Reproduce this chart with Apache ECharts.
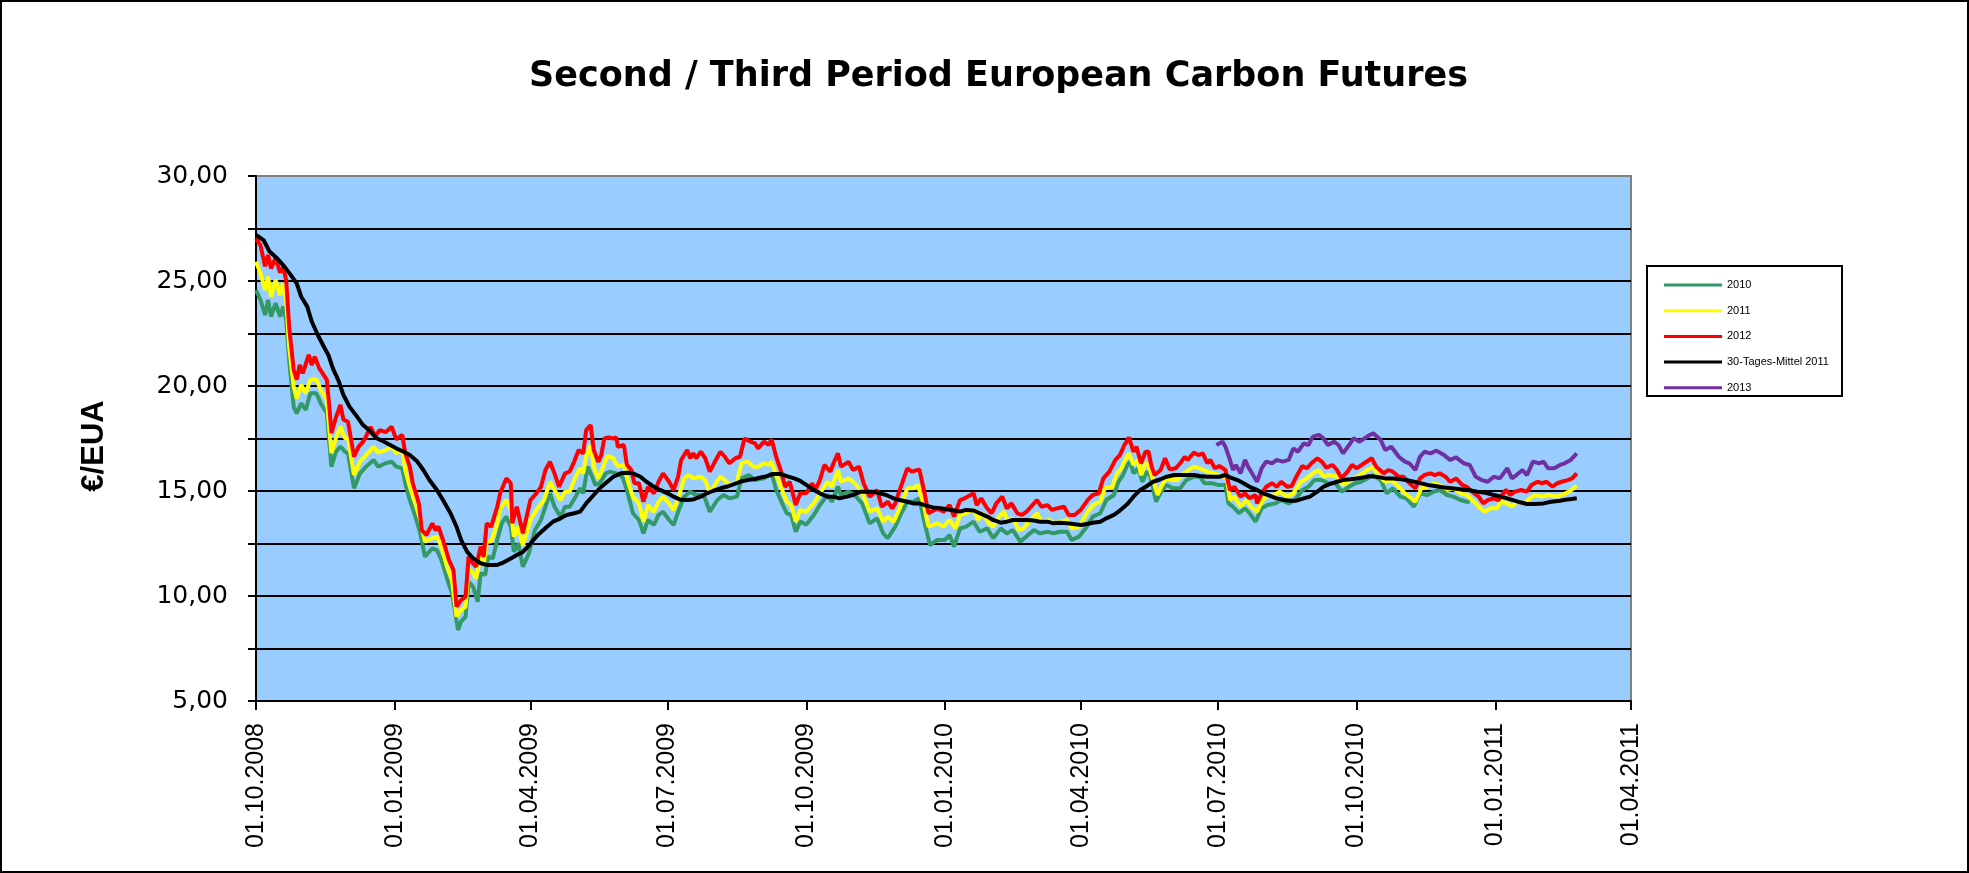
<!DOCTYPE html>
<html>
<head>
<meta charset="utf-8">
<script src="https://cdn.jsdelivr.net/npm/echarts@6/dist/echarts.min.js"></script>
<style>
html,body{margin:0;padding:0;background:#fff;}
#chart{width:1969px;height:873px;}
</style>
</head>
<body>
<div id="chart"></div>
<script>
// x values are days after 01.10.2008
const startDate = [2008, 9, 1];
const tickDates = ['2008-10-01','2009-01-01','2009-04-01','2009-07-01','2009-10-01','2010-01-01','2010-04-01','2010-07-01','2010-10-01','2011-01-01','2011-04-01'];
const yTicks = [5, 10, 15, 20, 25, 30];
const seriesNames = ['2010', '2011', '2012', '30-Tages-Mittel 2011', '2013'];

const s2010 = [[0,24.57],[3,24.1],[6,23.38],[8,24.1],[10,23.3],[13,23.94],[16,23.3],[18,23.78],[20,23.14],[22,21.24],[25,19.01],[27,18.7],[30,19.17],[33,18.86],[36,19.65],[40,19.65],[43,19.17],[47,18.7],[50,16.16],[53,16.87],[56,17.11],[59,16.87],[61,16.8],[65,15.13],[69,15.84],[73,16.16],[78,16.48],[81,16.16],[86,16.32],[90,16.4],[93,16.16],[97,16.08],[99,15.37],[102,14.57],[105,13.94],[109,12.98],[112,11.87],[117,12.27],[120,12.19],[123,11.71],[127,10.76],[130,10.13],[134,8.38],[136,8.78],[139,9.02],[141,10.68],[144,10.44],[147,9.73],[149,11.08],[152,11.0],[154,11.87],[157,11.79],[160,12.67],[163,13.46],[166,13.78],[169,13.3],[171,12.11],[174,12.51],[177,11.4],[181,12.03],[185,13.14],[189,13.62],[195,14.89],[198,14.25],[202,13.78],[205,14.25],[208,14.25],[212,14.73],[215,15.13],[217,14.89],[220,16.16],[223,15.68],[225,15.29],[228,15.37],[232,15.84],[235,15.92],[239,15.84],[243,15.68],[246,15.05],[250,13.94],[254,13.62],[257,12.98],[260,13.62],[264,13.38],[267,13.86],[270,14.01],[274,13.62],[277,13.38],[280,14.01],[284,14.73],[288,14.97],[292,14.81],[297,14.81],[301,14.01],[306,14.57],[310,14.81],[314,14.65],[319,14.73],[322,15.6],[327,15.76],[331,15.52],[337,15.6],[342,15.84],[345,15.05],[349,14.41],[352,13.94],[355,13.86],[358,13.06],[361,13.54],[365,13.4],[370,13.86],[374,14.33],[379,14.81],[382,14.49],[386,15.2],[388,14.81],[393,14.97],[397,14.81],[402,14.41],[407,13.46],[412,13.7],[416,12.98],[419,12.75],[424,13.3],[428,13.94],[432,14.49],[436,14.49],[440,14.65],[443,13.62],[447,12.43],[452,12.67],[457,12.67],[460,12.9],[463,12.35],[467,13.22],[471,13.3],[476,13.54],[480,13.06],[485,13.22],[489,12.75],[494,13.22],[498,12.98],[502,13.14],[507,12.59],[511,12.83],[516,13.14],[520,12.98],[525,13.06],[529,12.98],[533,13.06],[538,13.06],[541,12.67],[546,12.83],[551,13.3],[555,13.78],[560,13.94],[564,14.57],[569,14.81],[572,15.44],[575,15.76],[578,16.24],[580,16.4],[582,15.84],[585,16.08],[588,15.44],[591,15.92],[593,15.76],[597,14.49],[601,15.05],[604,15.29],[608,15.13],[613,15.13],[617,15.52],[622,15.68],[626,15.68],[629,15.37],[634,15.37],[638,15.29],[643,15.29],[645,14.41],[648,14.25],[652,13.94],[656,14.18],[659,13.94],[663,13.54],[667,14.18],[671,14.33],[676,14.41],[680,14.57],[685,14.41],[689,14.57],[694,15.05],[698,15.2],[702,15.52],[707,15.52],[711,15.37],[716,15.37],[720,14.97],[725,15.2],[729,15.37],[733,15.44],[737,15.6],[741,15.76],[746,15.52],[750,14.89],[754,15.13],[759,14.73],[763,14.65],[768,14.25],[772,14.89],[777,14.81],[781,14.97],[785,15.05],[790,14.81],[794,14.73],[799,14.57],[803,14.49],[805,14.49]];

const s2011 = [[0,25.92],[3,25.37],[6,24.57],[8,25.2],[10,24.25],[13,25.05],[16,24.33],[18,24.89],[20,24.1],[22,21.87],[25,19.97],[27,19.41],[30,20.05],[33,19.65],[36,20.29],[40,20.32],[43,19.81],[47,19.33],[50,16.8],[53,17.51],[56,18.06],[59,17.51],[61,17.51],[65,15.76],[69,16.4],[73,16.71],[78,17.11],[81,16.83],[86,16.95],[90,17.11],[93,16.8],[97,16.95],[99,16.0],[102,15.2],[105,14.57],[109,13.62],[112,12.59],[117,12.75],[120,12.83],[123,12.35],[127,11.32],[130,10.76],[133,9.02],[136,9.33],[139,9.49],[141,11.32],[144,11.08],[146,10.84],[149,11.87],[151,11.48],[153,12.59],[156,12.59],[160,13.46],[162,14.17],[166,14.57],[169,14.1],[171,12.83],[174,13.3],[177,12.4],[182,13.62],[186,14.1],[191,14.57],[195,15.44],[198,15.05],[202,14.57],[205,14.97],[208,14.97],[212,15.68],[215,16.08],[217,15.84],[219,16.63],[222,17.19],[224,16.16],[227,15.6],[229,15.92],[233,16.67],[237,16.56],[240,16.16],[244,16.24],[247,15.37],[250,14.73],[254,14.41],[257,13.54],[260,14.33],[264,14.01],[267,14.49],[270,14.73],[274,14.41],[277,14.1],[280,14.65],[284,15.6],[287,15.76],[290,15.6],[295,15.68],[298,15.52],[301,14.89],[305,15.37],[308,15.68],[311,15.52],[314,15.29],[319,15.44],[322,16.32],[326,16.4],[330,16.16],[333,16.16],[337,16.32],[340,16.24],[342,16.4],[345,15.76],[349,15.05],[352,14.49],[355,14.33],[358,13.54],[361,14.1],[365,14.0],[370,14.41],[374,14.89],[379,15.44],[382,15.2],[386,16.0],[388,15.44],[393,15.6],[397,15.37],[401,15.05],[404,14.57],[407,14.02],[412,14.18],[416,13.54],[419,13.78],[423,13.54],[427,14.18],[432,15.13],[436,15.13],[439,15.29],[443,14.33],[446,13.3],[452,13.46],[456,13.3],[460,13.62],[464,13.22],[467,13.86],[471,13.94],[476,14.1],[479,13.62],[482,13.94],[486,13.46],[489,13.3],[492,13.7],[496,14.02],[499,13.54],[502,13.7],[506,13.14],[509,13.22],[513,13.54],[518,13.94],[521,13.54],[526,13.62],[529,13.46],[533,13.54],[538,13.62],[541,13.22],[546,13.3],[551,13.94],[555,14.33],[560,14.49],[563,15.13],[568,15.2],[571,15.84],[574,16.08],[577,16.56],[579,16.79],[582,16.24],[585,16.48],[587,15.76],[590,16.32],[592,16.24],[595,15.52],[598,14.81],[601,15.29],[604,15.6],[607,15.52],[611,15.52],[614,15.76],[617,15.92],[622,16.16],[626,16.08],[631,15.92],[635,15.84],[639,15.76],[644,15.6],[646,14.57],[649,14.73],[653,14.25],[657,14.57],[660,14.25],[664,14.02],[667,14.49],[670,14.73],[675,14.81],[679,14.97],[684,14.73],[688,14.89],[693,15.44],[697,15.6],[701,15.84],[705,16.0],[708,15.68],[712,15.76],[717,15.68],[721,15.29],[726,15.52],[730,15.68],[734,15.84],[737,16.0],[741,16.13],[744,15.76],[749,15.44],[753,15.52],[758,15.2],[762,14.89],[765,14.73],[769,14.49],[773,15.13],[777,15.2],[781,15.37],[785,15.29],[790,15.05],[794,15.13],[799,14.89],[803,14.81],[808,14.49],[812,14.18],[815,14.02],[819,14.18],[823,14.18],[826,14.49],[830,14.41],[833,14.25],[836,14.49],[841,14.41],[845,14.65],[848,14.81],[853,14.73],[857,14.81],[862,14.73],[866,14.81],[871,14.97],[876,15.24]];

const s2012 = [[0,27.03],[3,26.7],[6,25.7],[8,26.24],[10,25.6],[13,26.1],[16,25.4],[18,25.65],[20,25.05],[22,22.8],[25,20.76],[27,20.3],[29,21.0],[31,20.6],[35,21.48],[37,21.0],[39,21.4],[42,20.84],[47,20.29],[49,18.7],[50,17.76],[53,18.5],[56,19.1],[58,18.4],[61,18.3],[65,16.63],[68,17.1],[71,17.35],[73,17.6],[76,18.06],[79,17.6],[82,17.9],[86,17.8],[90,18.06],[93,17.46],[97,17.67],[99,16.8],[102,16.16],[104,15.37],[108,14.4],[110,13.14],[113,12.9],[117,13.46],[119,13.14],[121,13.3],[124,12.67],[128,11.71],[131,11.24],[133,9.49],[136,9.8],[139,9.97],[141,11.87],[143,11.63],[146,11.4],[149,12.35],[151,11.87],[153,13.46],[156,13.3],[160,14.25],[162,14.9],[166,15.6],[169,15.37],[170,13.46],[173,14.25],[176,13.3],[177,12.98],[182,14.57],[186,14.89],[189,15.2],[192,16.0],[195,16.39],[198,15.84],[201,15.2],[205,15.84],[208,15.92],[211,16.39],[214,16.95],[217,16.79],[219,17.9],[222,18.14],[224,16.95],[227,16.39],[229,16.71],[231,17.5],[234,17.55],[237,17.5],[239,17.55],[240,17.1],[244,17.19],[246,16.24],[249,16.0],[251,15.37],[254,15.37],[257,14.49],[260,15.2],[264,14.89],[267,15.44],[270,15.84],[274,15.44],[277,15.05],[280,15.68],[282,16.48],[286,16.95],[288,16.56],[290,16.79],[292,16.56],[295,16.87],[298,16.56],[301,15.92],[305,16.48],[308,16.87],[311,16.63],[314,16.32],[318,16.56],[321,16.63],[324,17.5],[328,17.35],[331,17.27],[333,17.03],[337,17.35],[340,17.19],[342,17.46],[345,16.63],[348,16.0],[351,15.2],[354,15.44],[358,14.33],[361,14.89],[365,14.9],[369,15.37],[371,15.05],[374,15.52],[377,16.24],[381,15.92],[383,16.32],[386,16.79],[388,16.16],[393,16.39],[396,16.0],[400,16.16],[403,15.37],[407,14.73],[412,15.05],[415,14.25],[419,14.49],[422,14.17],[424,14.41],[427,15.05],[432,16.08],[435,15.92],[440,16.03],[443,15.05],[446,13.94],[452,14.17],[456,14.01],[460,14.33],[463,13.78],[467,14.57],[470,14.65],[474,14.81],[476,14.89],[478,14.33],[481,14.65],[485,14.17],[488,13.94],[491,14.41],[495,14.73],[498,14.17],[501,14.41],[505,13.94],[508,13.86],[511,14.01],[515,14.33],[518,14.57],[521,14.25],[525,14.33],[528,14.1],[531,14.17],[536,14.25],[539,13.86],[543,13.86],[547,14.1],[552,14.6],[555,14.81],[559,14.89],[562,15.6],[566,15.92],[570,16.48],[573,16.71],[576,17.19],[579,17.55],[582,16.87],[584,17.11],[587,16.32],[590,16.87],[592,16.87],[594,16.16],[596,15.76],[600,16.0],[603,16.56],[606,16.03],[610,16.08],[613,16.32],[616,16.63],[618,16.48],[622,16.83],[625,16.71],[628,16.79],[631,16.32],[633,16.48],[636,16.08],[639,16.19],[643,16.0],[646,15.05],[649,15.2],[653,14.73],[656,14.89],[659,14.65],[663,14.81],[664,14.41],[667,14.89],[670,15.2],[674,15.37],[677,15.2],[680,15.44],[684,15.2],[687,15.24],[690,15.68],[694,16.19],[697,16.08],[700,16.32],[704,16.56],[707,16.39],[710,16.11],[714,16.24],[717,16.0],[720,15.6],[724,15.92],[727,16.24],[730,16.08],[735,16.32],[740,16.56],[743,16.16],[748,15.84],[751,16.0],[754,15.92],[758,15.68],[761,15.68],[765,15.37],[769,15.13],[772,15.6],[775,15.76],[779,15.84],[782,15.76],[785,15.84],[789,15.68],[792,15.44],[796,15.6],[800,15.29],[803,15.2],[808,14.89],[811,14.73],[814,14.41],[817,14.57],[821,14.65],[824,14.57],[829,15.05],[832,14.81],[835,14.97],[839,15.05],[843,14.97],[846,15.29],[850,15.44],[853,15.37],[856,15.44],[860,15.2],[863,15.37],[866,15.44],[870,15.52],[873,15.6],[876,15.84]];

const sMean = [[0,27.19],[5,26.95],[9,26.4],[14,26.08],[18,25.76],[23,25.29],[27,24.89],[30,24.25],[34,23.78],[37,23.06],[41,22.43],[45,21.87],[48,21.48],[51,20.84],[55,20.21],[58,19.57],[62,19.02],[67,18.54],[71,18.14],[76,17.83],[80,17.51],[85,17.35],[89,17.19],[93,17.03],[98,16.87],[102,16.71],[107,16.4],[111,16.0],[115,15.52],[120,15.05],[124,14.57],[129,13.94],[133,13.3],[136,12.67],[140,12.11],[144,11.79],[149,11.56],[153,11.48],[160,11.48],[164,11.59],[169,11.79],[173,11.95],[177,12.1],[181,12.4],[184,12.67],[188,12.98],[193,13.3],[197,13.54],[202,13.7],[206,13.86],[211,13.94],[215,14.02],[219,14.41],[224,14.81],[228,15.13],[233,15.44],[237,15.68],[242,15.84],[246,15.87],[250,15.84],[255,15.68],[259,15.44],[264,15.2],[268,15.05],[273,14.89],[277,14.73],[281,14.6],[286,14.57],[290,14.6],[295,14.73],[299,14.89],[303,15.0],[308,15.13],[312,15.2],[317,15.33],[321,15.44],[326,15.52],[330,15.56],[334,15.63],[339,15.71],[343,15.81],[348,15.81],[352,15.71],[357,15.6],[361,15.48],[365,15.29],[370,15.05],[374,14.89],[379,14.73],[383,14.73],[387,14.65],[392,14.73],[396,14.81],[401,14.97],[405,14.97],[409,14.97],[414,14.89],[418,14.81],[423,14.65],[427,14.57],[432,14.49],[436,14.41],[440,14.41],[445,14.29],[449,14.22],[454,14.18],[458,14.13],[463,14.07],[467,14.02],[471,14.1],[476,14.07],[480,13.94],[485,13.78],[489,13.62],[494,13.49],[498,13.54],[502,13.62],[507,13.62],[511,13.62],[516,13.59],[520,13.54],[525,13.54],[529,13.46],[533,13.49],[538,13.46],[542,13.43],[547,13.38],[551,13.43],[555,13.49],[560,13.54],[564,13.7],[569,13.86],[573,14.07],[578,14.38],[582,14.73],[586,15.02],[591,15.24],[595,15.44],[600,15.56],[604,15.68],[609,15.76],[613,15.76],[617,15.76],[622,15.76],[626,15.71],[631,15.68],[635,15.68],[639,15.68],[643,15.76],[646,15.65],[651,15.52],[655,15.37],[659,15.2],[664,15.05],[668,14.89],[673,14.76],[677,14.65],[682,14.57],[686,14.54],[690,14.54],[695,14.65],[699,14.73],[704,14.97],[708,15.2],[712,15.33],[717,15.44],[721,15.52],[726,15.56],[730,15.6],[735,15.65],[738,15.7],[743,15.68],[749,15.6],[754,15.6],[760,15.56],[765,15.49],[771,15.4],[777,15.29],[782,15.24],[788,15.17],[793,15.13],[799,15.08],[804,15.05],[810,14.97],[815,14.92],[821,14.81],[826,14.73],[832,14.6],[837,14.49],[843,14.38],[848,14.38],[854,14.41],[859,14.49],[865,14.54],[870,14.6],[876,14.65]];

const s2013 = [[637,17.19],[641,17.35],[643,17.11],[646,16.48],[648,16.0],[650,16.24],[653,15.84],[656,16.48],[658,16.16],[660,15.92],[664,15.44],[667,16.08],[670,16.4],[674,16.32],[677,16.48],[681,16.4],[685,16.48],[688,17.03],[691,16.87],[695,17.27],[698,17.19],[701,17.59],[705,17.67],[708,17.51],[711,17.19],[715,17.35],[718,17.19],[721,16.79],[725,17.19],[728,17.51],[732,17.35],[737,17.59],[741,17.75],[746,17.43],[749,16.95],[753,17.11],[758,16.63],[762,16.4],[765,16.32],[769,16.0],[772,16.63],[775,16.87],[779,16.79],[783,16.92],[788,16.71],[792,16.48],[796,16.6],[801,16.32],[805,16.24],[809,15.68],[813,15.52],[817,15.44],[821,15.68],[825,15.6],[830,16.08],[833,15.6],[836,15.76],[840,16.0],[843,15.76],[847,16.4],[851,16.32],[854,16.4],[857,16.08],[861,16.08],[865,16.24],[868,16.32],[872,16.48],[876,16.79]];

function dayToTime(d) { return new Date(startDate[0], startDate[1], startDate[2] + d).getTime(); }
function parseDate(s) { const p = s.split('-'); return new Date(+p[0], +p[1] - 1, +p[2]).getTime(); }
function toSeries(arr) { return arr.map(p => [dayToTime(p[0]), p[1]]); }
function pad(n) { return (n < 10 ? '0' : '') + n; }

const tickTimes = tickDates.map(parseDate);
const colors = ['#339966', '#FFFF00', '#FF0000', '#000000', '#7030A0'];
const dataSets = [s2010, s2011, s2012, sMean, s2013];

const chart = echarts.init(document.getElementById('chart'), null, { renderer: 'canvas' });

const gridColors = [];
for (let i = 0; i < 10; i++) gridColors.push('#000000');
gridColors.push('#808080');

chart.setOption({
  animation: false,
  backgroundColor: '#ffffff',
  title: {
    text: 'Second / Third Period European Carbon Futures',
    left: 524,
    top: 54,
    textStyle: { fontFamily: 'DejaVu Sans', fontWeight: 'bold', fontSize: 35, color: '#000' }
  },
  legend: {
    orient: 'vertical',
    left: 1659,
    top: 273,
    itemWidth: 58,
    itemHeight: 3,
    itemGap: 11.7,
    icon: 'rect',
    data: seriesNames,
    textStyle: { fontFamily: 'Liberation Sans', fontSize: 11, color: '#000', lineHeight: 14 }
  },
  grid: {
    left: 256, right: 338, top: 176, bottom: 172,
    show: true, backgroundColor: '#99CCFF', borderColor: '#808080', borderWidth: 2,
    containLabel: false
  },
  xAxis: {
    type: 'value',
    min: tickTimes[0],
    max: tickTimes[tickTimes.length - 1],
    axisLine: { show: true, onZero: false, lineStyle: { color: '#000', width: 2 } },
    axisTick: { show: true, customValues: tickTimes, length: 9, lineStyle: { color: '#000', width: 2 } },
    axisLabel: {
      customValues: tickTimes,
      rotate: 90,
      margin: 22,
      fontFamily: 'Liberation Sans',
      fontSize: 25,
      color: '#000',
      formatter: function (v) { const d = new Date(v); return pad(d.getDate()) + '.' + pad(d.getMonth() + 1) + '.' + d.getFullYear(); }
    },
    splitLine: { show: false }
  },
  yAxis: {
    type: 'value',
    min: 5, max: 30, interval: 2.5,
    axisLine: { show: true, lineStyle: { color: '#000', width: 2 } },
    axisTick: { show: true, length: 8, inside: false, lineStyle: { color: '#000', width: 2 } },
    axisLabel: {
      margin: 28,
      fontFamily: 'DejaVu Sans',
      fontSize: 25,
      color: '#000',
      formatter: function (v) { return yTicks.indexOf(v) >= 0 ? v.toFixed(2).replace('.', ',') : ''; }
    },
    splitLine: { show: true, lineStyle: { color: gridColors, width: 2 } }
  },
  graphic: [
    { type: 'rect', shape: { x: 1, y: 1, width: 1967, height: 871 }, style: { fill: 'none', stroke: '#000', lineWidth: 2 }, silent: true, z: -10 },
    { type: 'rect', shape: { x: 1647, y: 266, width: 195, height: 130 }, style: { fill: '#fff', stroke: '#000', lineWidth: 2 }, silent: true, z: -1 },
    { type: 'text', x: 94, y: 446, rotation: Math.PI / 2, style: { text: '€/EUA', fontFamily: 'Liberation Sans', fontWeight: 'bold', fontSize: 31, fill: '#000', textAlign: 'center', textVerticalAlign: 'middle' } }
  ],
  series: dataSets.map((arr, i) => ({
    name: seriesNames[i],
    type: 'line',
    data: toSeries(arr),
    color: colors[i],
    showSymbol: false,
    symbol: 'none',
    lineStyle: { color: colors[i], width: 4 },
    z: 2 + i
  }))
});
</script>
</body>
</html>
